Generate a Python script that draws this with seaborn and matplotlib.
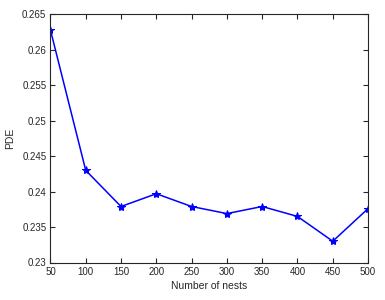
import pandas as pd
import seaborn as sns
import matplotlib.pyplot as plt

# values
nests = [50, 100, 150, 200, 250, 300, 350, 400, 450, 500]
pde = [0.2628, 0.2430, 0.2379, 0.2397, 0.2379, 0.2369, 0.2379, 0.2365, 0.2330, 0.2376]

df = pd.DataFrame({'Number of nests': nests, 'PDE': pde})

sns.set_style('ticks')
plt.rcParams['font.family'] = ['Liberation Sans', 'DejaVu Sans']

fig = plt.figure(figsize=(3.85, 3.0), dpi=100)
ax = fig.add_axes([0.131, 0.125, 0.825, 0.827])

sns.lineplot(data=df, x='Number of nests', y='PDE', color='#0000ff', marker='*',
             markersize=6, markeredgecolor='#0000ff', linewidth=1.1, ax=ax)

ax.set_xlim(50, 500)
ax.set_ylim(0.23, 0.265)
ax.set_xticks(nests)
ax.set_yticks([0.23, 0.235, 0.24, 0.245, 0.25, 0.255, 0.26, 0.265])
ax.set_yticklabels(['0.23', '0.235', '0.24', '0.245', '0.25', '0.255', '0.26', '0.265'])
ax.tick_params(direction='in', length=3.5, width=0.8, labelsize=7, color='#262626',
               top=True, right=True, labelcolor='#262626', pad=3)
for s in ax.spines.values():
    s.set_visible(True)
    s.set_color('#262626')
    s.set_linewidth(0.8)
ax.set_xlabel('Number of nests', fontsize=7.5, color='#262626', labelpad=3)
ax.set_ylabel('PDE', fontsize=7.5, color='#262626', labelpad=5)

fig.savefig('out.png', dpi=100)
